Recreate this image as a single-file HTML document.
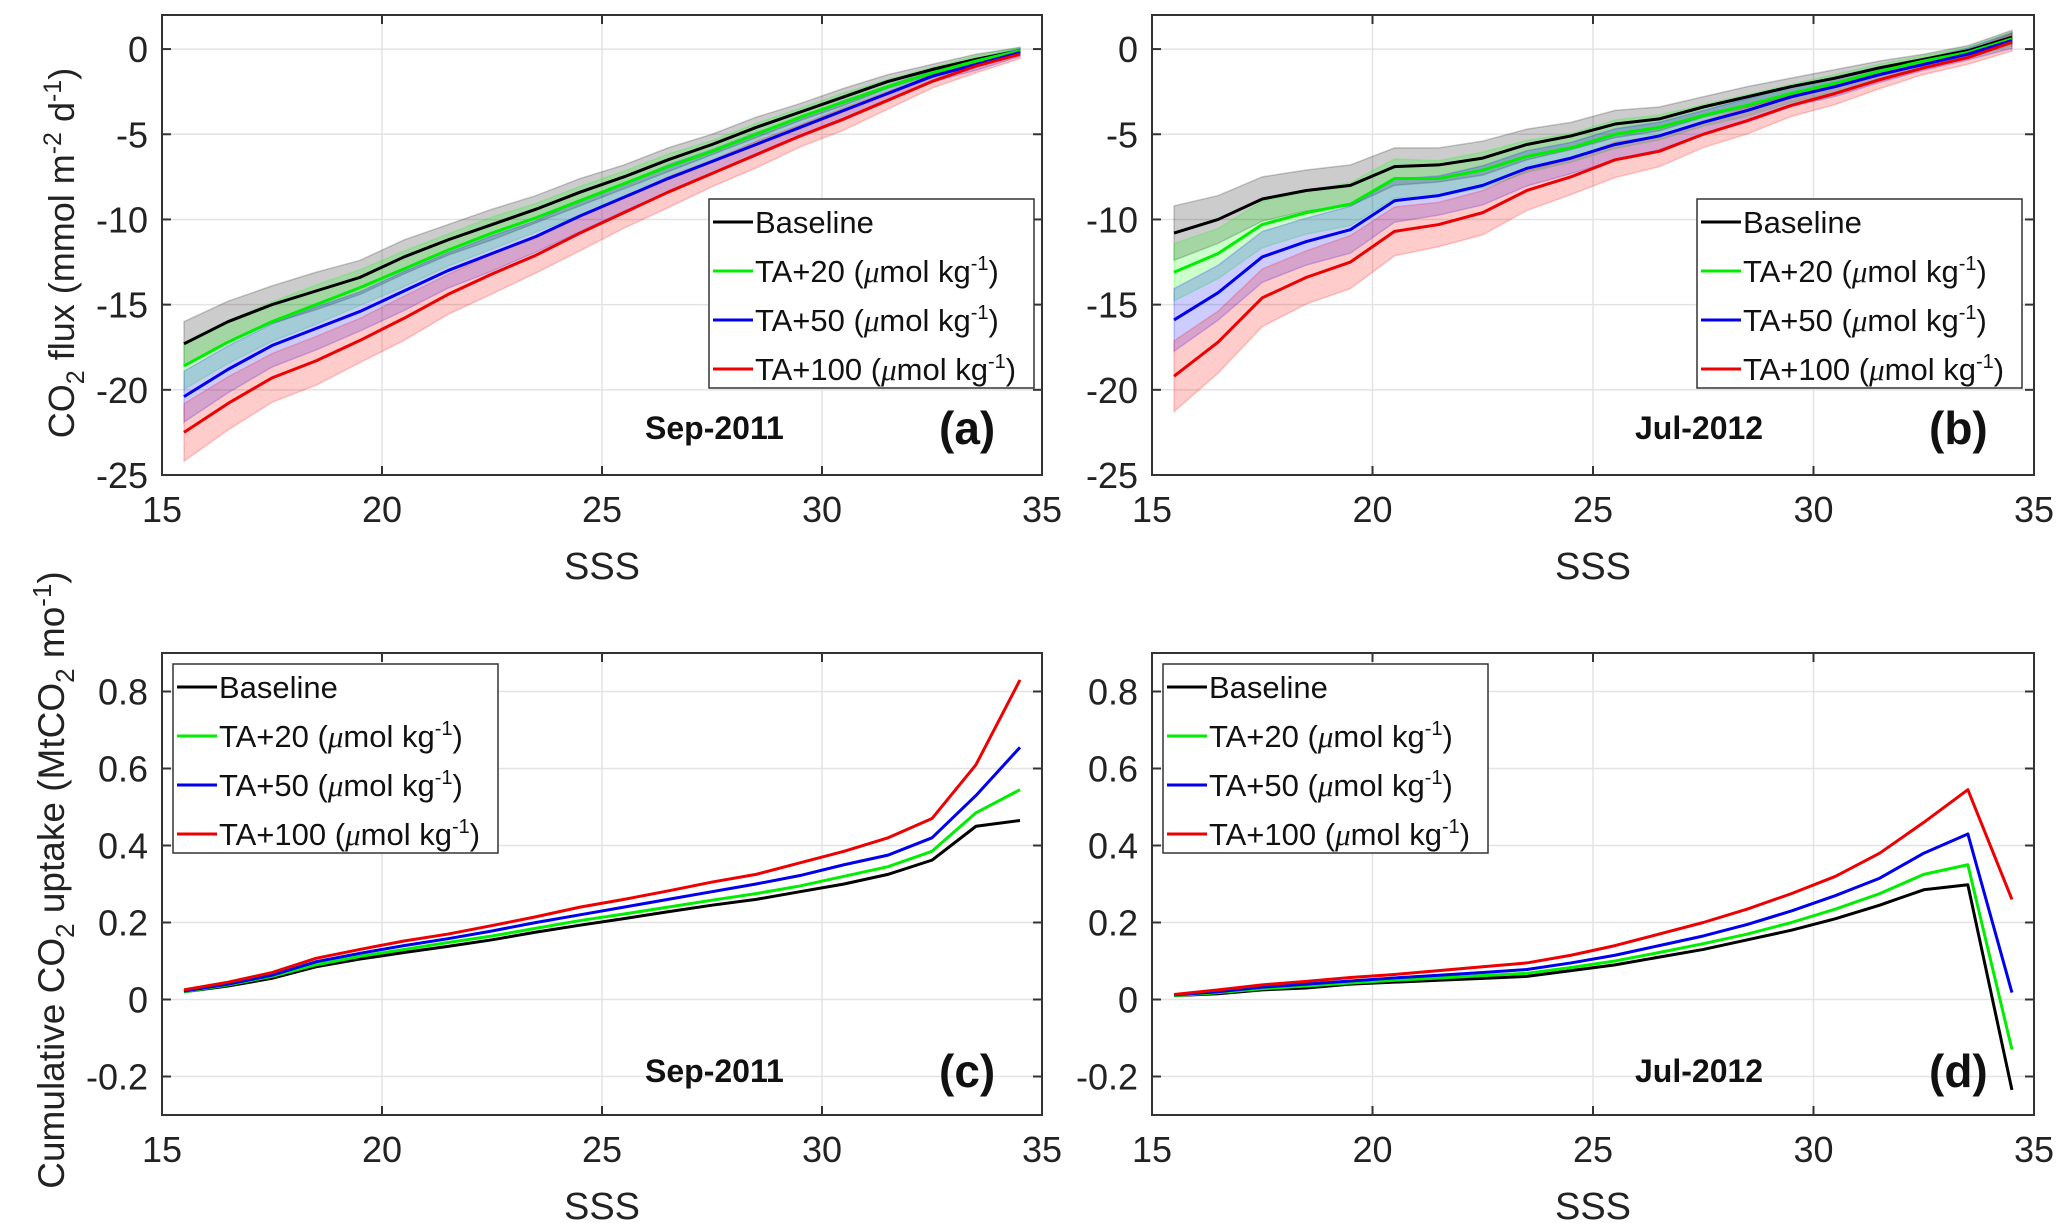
<!DOCTYPE html>
<html><head><meta charset="utf-8"><style>
html,body{margin:0;padding:0;background:#fff;}
svg text{font-family:"Liberation Sans Narrow","Liberation Sans",sans-serif;}
</style></head><body>
<svg id="fig" width="2067" height="1222" viewBox="0 0 2067 1222" xmlns="http://www.w3.org/2000/svg"></svg>
<script>
const xs = [15.5,16.5,17.5,18.5,19.5,20.5,21.5,22.5,23.5,24.5,25.5,26.5,27.5,28.5,29.5,30.5,31.5,32.5,33.5,34.5];
const seriesNames = ["Baseline","TA+20","TA+50","TA+100"];
const aBase = [-17.3,-16,-15,-14.2,-13.4,-12.2,-11.2,-10.3,-9.4,-8.4,-7.5,-6.5,-5.6,-4.6,-3.7,-2.8,-1.9,-1.2,-0.6,-0.1];
const aTA20 = [-18.6,-17.2,-16.0,-15.0,-14.0,-12.9,-11.8,-10.8,-9.9,-8.9,-7.9,-6.9,-6.0,-5.0,-4.0,-3.1,-2.2,-1.4,-0.7,-0.1];
const aTA50 = [-20.4,-18.8,-17.4,-16.4,-15.4,-14.2,-13.0,-12.0,-11.0,-9.8,-8.7,-7.6,-6.6,-5.6,-4.6,-3.6,-2.6,-1.6,-0.9,-0.2];
const aTA100 = [-22.5,-20.8,-19.3,-18.3,-17.1,-15.8,-14.4,-13.2,-12.1,-10.8,-9.6,-8.4,-7.3,-6.2,-5.1,-4.1,-3.0,-1.9,-1.0,-0.3];
const aSpread = [1.3,1.2,1.1,1.1,1.0,1.0,0.9,0.9,0.8,0.8,0.7,0.7,0.6,0.6,0.5,0.5,0.4,0.3,0.3,0.2];
const bBase = [-10.8,-10.0,-8.8,-8.3,-8.0,-6.9,-6.8,-6.4,-5.6,-5.1,-4.4,-4.1,-3.4,-2.8,-2.2,-1.7,-1.1,-0.6,-0.1,0.7];
const bTA20 = [-13.1,-12.0,-10.3,-9.6,-9.1,-7.6,-7.6,-7.1,-6.3,-5.8,-5.0,-4.6,-3.9,-3.3,-2.6,-2.0,-1.3,-0.7,-0.2,0.6];
const bTA50 = [-15.9,-14.3,-12.2,-11.3,-10.6,-8.9,-8.6,-8.0,-7.0,-6.4,-5.6,-5.1,-4.3,-3.6,-2.8,-2.2,-1.5,-0.9,-0.3,0.5];
const bTA100 = [-19.2,-17.2,-14.6,-13.4,-12.5,-10.7,-10.3,-9.6,-8.3,-7.5,-6.5,-6.0,-5.0,-4.2,-3.3,-2.6,-1.8,-1.1,-0.5,0.4];
const bSpread = [1.6,1.4,1.3,1.2,1.2,1.1,1.0,1.0,0.9,0.8,0.8,0.7,0.6,0.6,0.5,0.5,0.4,0.3,0.3,0.4];
const cBase = [0.02,0.035,0.055,0.085,0.105,0.122,0.138,0.155,0.175,0.193,0.21,0.228,0.245,0.26,0.28,0.3,0.325,0.362,0.45,0.465];
const cTA20 = [0.02,0.038,0.06,0.09,0.112,0.13,0.148,0.165,0.185,0.205,0.222,0.24,0.258,0.275,0.295,0.32,0.345,0.385,0.485,0.545];
const cTA50 = [0.022,0.04,0.063,0.098,0.12,0.14,0.158,0.178,0.2,0.22,0.24,0.26,0.28,0.3,0.322,0.35,0.375,0.42,0.53,0.655];
const cTA100 = [0.025,0.045,0.07,0.107,0.13,0.152,0.17,0.192,0.215,0.24,0.26,0.282,0.305,0.325,0.355,0.385,0.42,0.47,0.61,0.83];
const dBase = [0.01,0.015,0.025,0.03,0.04,0.045,0.05,0.055,0.06,0.075,0.09,0.11,0.13,0.155,0.18,0.21,0.245,0.285,0.298,-0.235];
const dTA20 = [0.01,0.018,0.028,0.035,0.043,0.05,0.056,0.062,0.068,0.083,0.1,0.122,0.145,0.17,0.2,0.235,0.275,0.325,0.35,-0.13];
const dTA50 = [0.012,0.02,0.032,0.04,0.048,0.056,0.063,0.07,0.078,0.095,0.115,0.14,0.165,0.195,0.23,0.27,0.315,0.38,0.43,0.018];
const dTA100 = [0.013,0.025,0.038,0.047,0.057,0.065,0.075,0.085,0.095,0.115,0.14,0.17,0.2,0.235,0.275,0.32,0.38,0.46,0.545,0.26];
const xTicks = [15,20,25,30,35];
const fluxTicks = [0,-5,-10,-15,-20,-25];
const cumTicks = [0.8,0.6,0.4,0.2,0,-0.2];
const cumTickLabels = ["0.8","0.6","0.4","0.2","0","-0.2"];

const NS="http://www.w3.org/2000/svg";
const svg=document.getElementById('fig');
const colors=["#000000","#00ee00","#0000ee","#ee0000"];
const fills=["rgba(0,0,0,0.2)","rgba(0,255,0,0.2)","rgba(0,0,255,0.2)","rgba(255,0,0,0.2)"];
const spreadScale=[1,1.05,1.15,1.3];
function mk(tag,attrs,parent){const e=document.createElementNS(NS,tag);for(const k in attrs)e.setAttribute(k,attrs[k]);(parent||svg).appendChild(e);return e;}

function panel(id,L,R,T,B,ymin,ymax,yT,yTL,series,spread,legX,legY,dateTxt,dateX,letter,letX,annY){
  const g=mk('g',{});
  
  
  const sx=v=>L+(v-15)/20*(R-L);
  const sy=v=>B-(v-ymin)/(ymax-ymin)*(B-T);
  xTicks.forEach(t=>{ if(t>15&&t<35){const l=mk('line',{x1:sx(t),x2:sx(t),y1:T,y2:B,stroke:'#e3e3e3','stroke-width':1.5},g);
    }});
  yT.forEach(t=>{const l=mk('line',{x1:L,x2:R,y1:sy(t),y2:sy(t),stroke:'#e3e3e3','stroke-width':1.5},g);
    });
  if(spread){series.forEach((s,i)=>{
    const up=s.map((v,j)=>sx(xs[j])+','+sy(v+spread[j]*spreadScale[i]));
    const lo=s.map((v,j)=>sx(xs[j])+','+sy(v-spread[j]*spreadScale[i])).reverse();
    const p=mk('polygon',{points:up.concat(lo).join(' '),fill:fills[i],stroke:fills[i],'stroke-width':1.5},g);
    
    
  });}
  series.forEach((s,i)=>{
    const p=mk('polyline',{points:s.map((v,j)=>sx(xs[j])+','+sy(v)).join(' '),fill:'none',stroke:colors[i],'stroke-width':3,'stroke-linejoin':'round'},g);
    
    
  });
  const f=mk('rect',{x:L,y:T,width:R-L,height:B-T,fill:'none',stroke:'#333','stroke-width':2},g);
  
  xTicks.forEach(t=>{mk('line',{x1:sx(t),x2:sx(t),y1:B,y2:B-9,stroke:'#333','stroke-width':2},g);mk('line',{x1:sx(t),x2:sx(t),y1:T,y2:T+9,stroke:'#333','stroke-width':2},g);
    const tx=mk('text',{x:sx(t),y:B+47,'font-size':36,'text-anchor':'middle',fill:'#222'},g);tx.textContent=t;
    });
  yT.forEach((t,k)=>{mk('line',{x1:L,x2:L+9,y1:sy(t),y2:sy(t),stroke:'#333','stroke-width':2},g);mk('line',{x1:R,x2:R-9,y1:sy(t),y2:sy(t),stroke:'#333','stroke-width':2},g);
    const tx=mk('text',{x:L-14,y:sy(t)+13,'font-size':36,'text-anchor':'end',fill:'#222'},g);tx.textContent=yTL?yTL[k]:t;
    });
  const xl=mk('text',{x:(L+R)/2,y:B+104,'font-size':38,'text-anchor':'middle',fill:'#222'},g);xl.textContent='SSS';
  
  const lg=mk('g',{},g);
  mk('rect',{x:legX,y:legY,width:325,height:189,fill:'#fff',stroke:'#333','stroke-width':1.5},lg);
  const labs=['Baseline','TA+20 (','TA+50 (','TA+100 ('];
  labs.forEach((lb,i)=>{
    const yy=legY+23+i*49;
    const e=mk('g',{},lg);
    mk('line',{x1:legX+4,x2:legX+44,y1:yy,y2:yy,stroke:colors[i],'stroke-width':3},e);
    const t=mk('text',{x:legX+46,y:yy+11,'font-size':31,fill:'#111'},e);
    if(i===0){t.textContent='Baseline';}
    else{t.innerHTML=lb+'<tspan font-style="italic" font-family="Liberation Serif">μ</tspan>mol kg<tspan font-size="20" dy="-12">-1</tspan><tspan dy="12">)</tspan>';}
  });
  const dt=mk('text',{x:dateX,y:annY+11,'font-size':32,'font-weight':'bold',fill:'#111'},g);dt.textContent=dateTxt;
  
  const lt=mk('text',{x:letX,y:annY+16,'font-size':46,'font-weight':'bold',fill:'#111'},g);lt.textContent=letter;
  
}
panel('a',162,1042,15,475,-25,2,fluxTicks,null,[aBase,aTA20,aTA50,aTA100],aSpread,709,199,'Sep-2011',645,'(a)',939,428);
panel('b',1152,2034,15,475,-25,2,fluxTicks,null,[bBase,bTA20,bTA50,bTA100],bSpread,1697,199,'Jul-2012',1635,'(b)',1929,428);
panel('c',162,1042,653,1115,-0.3,0.9,cumTicks,cumTickLabels,[cBase,cTA20,cTA50,cTA100],null,173,664,'Sep-2011',645,'(c)',939,1071);
panel('d',1152,2034,653,1115,-0.3,0.9,cumTicks,cumTickLabels,[dBase,dTA20,dTA50,dTA100],null,1163,664,'Jul-2012',1635,'(d)',1929,1071);
const ya=mk('text',{x:0,y:0,'font-size':36,'text-anchor':'middle',fill:'#222',transform:'translate(74,253) rotate(-90)'});
ya.innerHTML='CO<tspan font-size="25" dy="10">2</tspan><tspan dy="-10"> flux (mmol m</tspan><tspan font-size="25" dy="-13">-2</tspan><tspan dy="13"> d</tspan><tspan font-size="25" dy="-13">-1</tspan><tspan dy="13">)</tspan>';

const yc=mk('text',{x:0,y:0,'font-size':37,'text-anchor':'middle',fill:'#222',transform:'translate(64,880) rotate(-90)'});
yc.innerHTML='Cumulative CO<tspan font-size="26" dy="10">2</tspan><tspan dy="-10"> uptake (MtCO</tspan><tspan font-size="26" dy="10">2</tspan><tspan dy="-10"> mo</tspan><tspan font-size="26" dy="-13">-1</tspan><tspan dy="13">)</tspan>';

</script>
</body></html>
